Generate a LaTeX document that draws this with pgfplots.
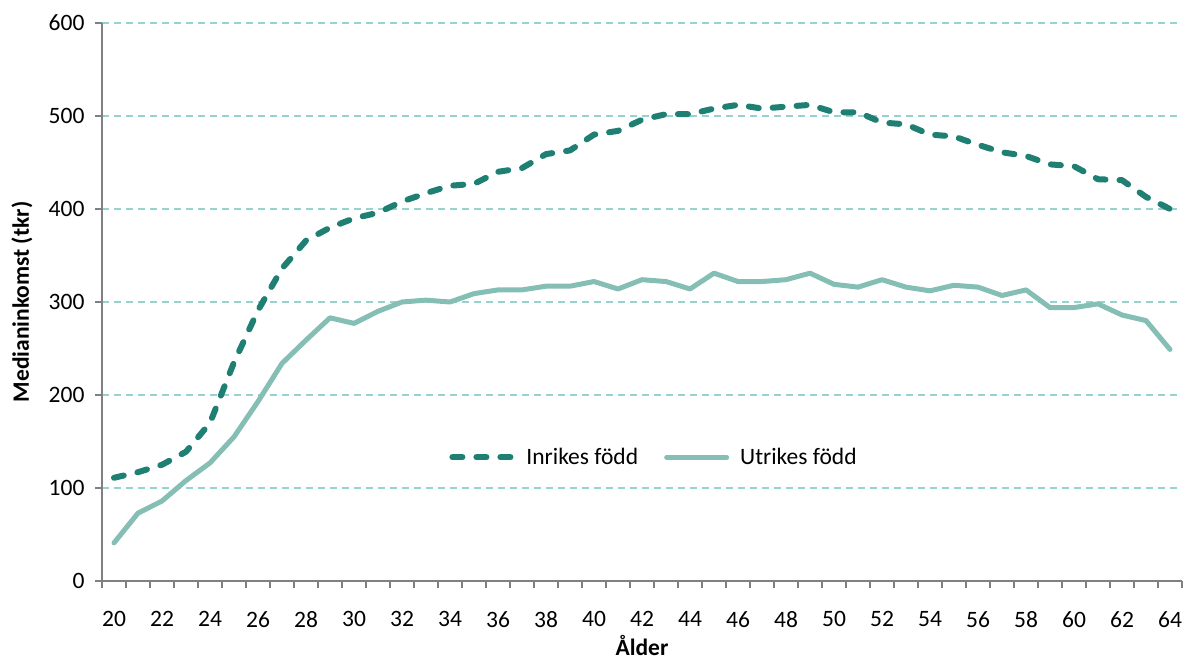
\documentclass[border=0pt]{standalone}
\usepackage{fontspec}
\setmainfont{Carlito}
\usepackage{pgfplots}
\pgfplotsset{compat=1.18}
\definecolor{darkc}{RGB}{31,127,115}
\definecolor{lightc}{RGB}{133,190,180}
\definecolor{gridc}{RGB}{150,210,208}
\definecolor{axc}{RGB}{128,128,128}
\begin{document}
\begin{tikzpicture}
\begin{axis}[
  scale only axis, width=1080pt, height=558pt,
  xmin=19.5, xmax=64.5, ymin=0, ymax=600,
  axis x line=bottom, axis y line=left,
  axis line style={axc, line width=1.5pt, -},
  every tick/.style={axc, line width=1.5pt},
  tick align=outside, major tick length=7pt,
  xtick={19.5,20.5,...,64.5},
  xticklabels={20,{},22,{},24,{},26,{},28,{},30,{},32,{},34,{},36,{},38,{},40,{},42,{},44,{},46,{},48,{},50,{},52,{},54,{},56,{},58,{},60,{},62,{},64,{}},
  ytick={0,100,...,600},
  /pgf/number format/assume math mode=true,
  tick label style={font=\fontsize{23.5}{28}\selectfont, text=black},
  xticklabel style={xshift=12pt, yshift=-20pt},
  yticklabel style={xshift=-7pt},
  ymajorgrids,
  grid style={gridc, line width=1.5pt, dash pattern=on 7pt off 5pt},
  xlabel={\textbf{Ålder}},
  ylabel={\textbf{Medianinkomst (tkr)}},
  label style={font=\fontsize{23.5}{28}\selectfont},
  xlabel style={at={(axis description cs:0.5,-0.1335)}, anchor=base},
  ylabel style={at={(axis description cs:-0.0741,0.5)}, anchor=center},
  legend style={at={(axis cs:42.5,133)}, anchor=center, draw=none, fill=none,
    font=\fontsize{23.5}{28}\selectfont, legend columns=2,
    /tikz/every even column/.append style={column sep=24pt}},
  legend image code/.code={\draw[#1] (3pt,0pt) -- (63pt,0pt); \path (72pt,0pt);},
  clip=false,
]
\addplot[darkc, line width=6pt, line cap=round, line join=round, dash pattern=on 10pt off 14pt] coordinates {
(20,111) (21,117) (22,125) (23,139) (24,170) (25,235) (26,291) (27,336) (28,366) (29,380)
(30,390) (31,396) (32,408) (33,417) (34,425) (35,427) (36,440) (37,444) (38,459) (39,463)
(40,480) (41,484) (42,496) (43,502) (44,502) (45,508) (46,512) (47,508) (48,510) (49,512)
(50,504) (51,504) (52,493) (53,491) (54,480) (55,478) (56,469) (57,461) (58,457) (59,448)
(60,446) (61,432) (62,431) (63,413) (64,400)};
\addlegendentry{Inrikes född}
\addplot[lightc, line width=5pt, line cap=round, line join=round] coordinates {
(20,41) (21,73) (22,86) (23,108) (24,127) (25,155) (26,193) (27,234) (28,259) (29,283)
(30,277) (31,290) (32,300) (33,302) (34,300) (35,309) (36,313) (37,313) (38,317) (39,317)
(40,322) (41,314) (42,324) (43,322) (44,314) (45,331) (46,322) (47,322) (48,324) (49,331)
(50,319) (51,316) (52,324) (53,316) (54,312) (55,318) (56,316) (57,307) (58,313) (59,294)
(60,294) (61,298) (62,286) (63,280) (64,249)};
\addlegendentry{Utrikes född}
\coordinate (ll) at (rel axis cs:0,0);
\coordinate (ur) at (rel axis cs:1,1);
\end{axis}
\pgfresetboundingbox
\path ([shift={(-102pt,-78pt)}]ll) rectangle ([shift={(8pt,23pt)}]ur);
\end{tikzpicture}
\end{document}
